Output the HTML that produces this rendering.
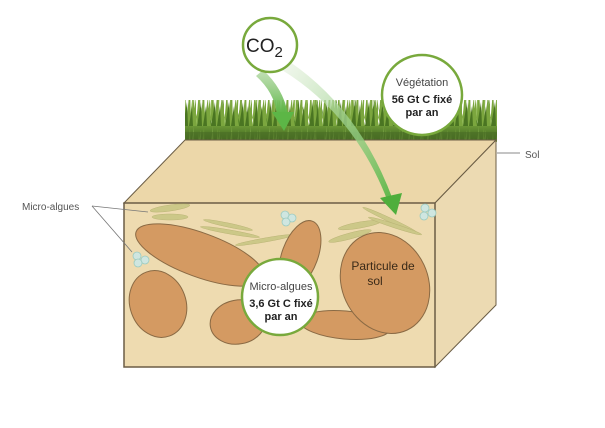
<!DOCTYPE html>
<html><head><meta charset="utf-8"><style>
html,body{margin:0;padding:0;background:#fff;}
svg{display:block;font-family:"Liberation Sans",sans-serif;}
</style></head><body>
<svg width="605" height="428" viewBox="0 0 605 428" xmlns="http://www.w3.org/2000/svg">
<defs>
<pattern id="g" x="0" y="0" width="14" height="42" patternUnits="userSpaceOnUse">
<path d="M0 42 L3 6 L5 42 Z M4 42 L8 2 L9 42Z M8 42 L12 12 L13 42Z M2 42 L-2 16 L1 42Z M10 42 L15 6 L14 42Z" fill="#7ba63e"/>
<path d="M1 42 L5 18 L6 42Z M7 42 L10 22 L11 42Z" fill="#4a7522"/>
</pattern>
<pattern id="g2" x="5" y="0" width="19" height="42" patternUnits="userSpaceOnUse">
<path d="M0 42 L6 4 L4 42 Z M9 42 L7 10 L12 42Z M13 42 L18 0 L16 42Z" fill="#93bb5a"/>
<path d="M3 42 L9 14 L8 42Z M15 42 L12 20 L17 42Z" fill="#5a8a2c"/>
</pattern>
<linearGradient id="gd" x1="0" y1="0" x2="0" y2="1"><stop offset="0" stop-color="#6e9a38"/><stop offset="1" stop-color="#3a5f1a"/></linearGradient>
<linearGradient id="a1" x1="0" y1="0" x2="0" y2="1"><stop offset="0" stop-color="#a9d398" stop-opacity=".7"/><stop offset="1" stop-color="#5cb646"/></linearGradient>
<linearGradient id="a2" x1="0" y1="0" x2="1" y2="1"><stop offset="0" stop-color="#e4f0dc" stop-opacity=".5"/><stop offset="1" stop-color="#5cb646"/></linearGradient>
</defs>
<!-- grass -->
<rect x="185" y="125" width="312" height="16" fill="url(#gd)"/>
<rect x="185" y="100" width="312" height="42" fill="url(#g2)"/>
<rect x="185" y="100" width="312" height="42" fill="url(#g)"/>
<rect x="185" y="132" width="312" height="9" fill="#4b6f26" opacity=".7"/>
<!-- box -->
<polygon points="185,140 496,140 435,203 124,203" fill="#ecd7a9" stroke="#6b5d45" stroke-width="1"/>
<polygon points="435,203 496,140 496,305 435,367" fill="#ecdab2" stroke="#6b5d45" stroke-width="1"/>
<rect x="124" y="203" width="311" height="164" fill="#eedbb0" stroke="#6b5d45" stroke-width="1.5"/>
<!-- algae -->
<g fill="#c9c784" stroke="#b5b070" stroke-width=".5" opacity=".9">
<ellipse cx="170" cy="208" rx="20" ry="3" transform="rotate(-8 170 208)"/>
<ellipse cx="170" cy="217" rx="18" ry="3"/>
<ellipse cx="228" cy="225" rx="25" ry="2" transform="rotate(12 228 225)"/>
<ellipse cx="230" cy="232" rx="30" ry="2" transform="rotate(10 230 232)"/>
<ellipse cx="265" cy="240" rx="30" ry="2" transform="rotate(-10 265 240)"/>
<ellipse cx="360" cy="225" rx="22" ry="3" transform="rotate(-10 360 225)"/>
<ellipse cx="350" cy="236" rx="22" ry="3" transform="rotate(-15 350 236)"/>
<ellipse cx="390" cy="220" rx="30" ry="2" transform="rotate(25 390 220)"/>
<ellipse cx="395" cy="226" rx="28" ry="2" transform="rotate(18 395 226)"/>
</g>
<g fill="#cfe6e0" stroke="#9ccbc0" stroke-width=".8">
<circle cx="285" cy="215" r="4"/><circle cx="292" cy="218" r="4"/><circle cx="286" cy="222" r="4"/>
<circle cx="425" cy="208" r="4"/><circle cx="432" cy="213" r="4"/><circle cx="424" cy="216" r="4"/>
<circle cx="137" cy="256" r="4"/><circle cx="145" cy="260" r="4"/><circle cx="138" cy="263" r="4"/>
</g>
<!-- particles -->
<g fill="#d49a62" stroke="#8a6a44" stroke-width="1">
<ellipse cx="200" cy="255" rx="68" ry="22" transform="rotate(20 200 255)"/>
<ellipse cx="158" cy="304" rx="28" ry="34" transform="rotate(-20 158 304)"/>
<ellipse cx="300" cy="255" rx="18" ry="36" transform="rotate(20 300 255)"/>
<ellipse cx="345" cy="325" rx="45" ry="14" transform="rotate(5 345 325)"/>
<ellipse cx="238" cy="322" rx="28" ry="22" transform="rotate(-10 238 322)"/>
<ellipse cx="385" cy="283" rx="43" ry="52" transform="rotate(-25 385 283)"/>
</g>
<text x="383" y="270" font-size="12" fill="#3a2a18" text-anchor="middle">Particule de</text>
<text x="375" y="285" font-size="12" fill="#3a2a18" text-anchor="middle">sol</text>
<!-- arrows -->
<path d="M290 62 Q360 110 393 200 L388 202 Q355 115 282 70 Z" fill="url(#a2)"/>
<polygon points="380,198 402,193 396,215" fill="#4fae3c"/>
<path d="M263 70 Q283 88 288 114 L277 114 Q274 92 256 76 Z" fill="url(#a1)"/>
<polygon points="272,112 294,112 284,131" fill="#5cb646"/>
<!-- circles -->
<circle cx="270" cy="45" r="27" fill="#fff" stroke="#78a93c" stroke-width="2.5"/>
<text x="246" y="52" font-size="19" fill="#222">CO<tspan font-size="15" dy="5">2</tspan></text>
<circle cx="422" cy="95" r="40" fill="#fff" stroke="#78a93c" stroke-width="2.5"/>
<text x="422" y="86" font-size="11" fill="#444" text-anchor="middle">Végétation</text>
<text x="422" y="103" font-size="11" font-weight="bold" fill="#222" text-anchor="middle">56 Gt C fixé</text>
<text x="422" y="116" font-size="11" font-weight="bold" fill="#222" text-anchor="middle">par an</text>
<circle cx="280" cy="297" r="38" fill="#fff" stroke="#78a93c" stroke-width="2.5"/>
<text x="281" y="290" font-size="11" fill="#444" text-anchor="middle">Micro-algues</text>
<text x="281" y="307" font-size="11" font-weight="bold" fill="#222" text-anchor="middle">3,6 Gt C fixé</text>
<text x="281" y="320" font-size="11" font-weight="bold" fill="#222" text-anchor="middle">par an</text>
<!-- labels -->
<line x1="497" y1="153" x2="520" y2="153" stroke="#888" stroke-width="1"/>
<text x="525" y="158" font-size="10" fill="#555">Sol</text>
<text x="22" y="210" font-size="10" fill="#555">Micro-algues</text>
<line x1="92" y1="206" x2="148" y2="212" stroke="#777" stroke-width=".8"/>
<line x1="92" y1="206" x2="132" y2="252" stroke="#777" stroke-width=".8"/>
</svg>
</body></html>
